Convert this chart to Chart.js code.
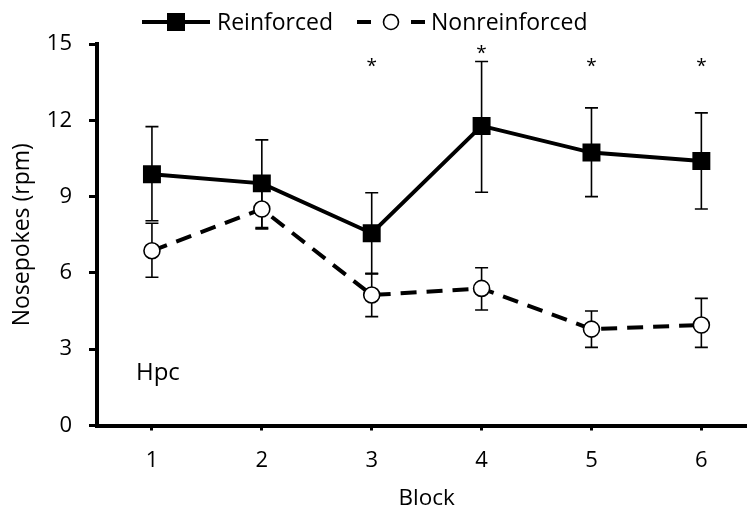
<!DOCTYPE html>
<html><head><meta charset="utf-8">
<style>html,body{margin:0;padding:0;overflow:hidden;background:#fff;width:747px;height:512px}#wrap{position:relative;width:747px;height:512px;overflow:hidden}</style>
<script src="https://cdn.jsdelivr.net/npm/chart.js@4"></script>
</head><body><div id="wrap"><canvas id="c" width="769" height="512"></canvas></div>
<script>
const blocks = ['1', '2', '3', '4', '5', '6'];
const reinforced = [9.88, 9.52, 7.56, 11.78, 10.73, 10.40];
const reinforcedHigh = [11.75, 11.23, 9.15, 14.31, 12.49, 12.29];
const reinforcedLow = [8.05, 7.73, 5.96, 9.17, 9.00, 8.51];
const nonreinforced = [6.87, 8.51, 5.13, 5.39, 3.79, 3.95];
const nonreinforcedHigh = [7.95, 9.24, 5.98, 6.20, 4.50, 5.00];
const nonreinforcedLow = [5.83, 7.78, 4.28, 4.54, 3.07, 3.07];
const significance = ['', '', '*', '*', '*', '*'];
const significanceLevel = [null, null, 14.3, 14.8, 14.3, 14.3];
const yTicks = [0, 3, 6, 9, 12, 15];

const FONT = '"Open Sans", "Noto Sans", sans-serif';

const errorBars = {
  id: 'errorBars',
  beforeDatasetsDraw(chart) {
    const {ctx, scales: {x, y}} = chart;
    const sets = [[reinforcedHigh, reinforcedLow], [nonreinforcedHigh, nonreinforcedLow]];
    ctx.save();
    ctx.strokeStyle = '#000';
    ctx.lineWidth = 1.6;
    sets.forEach(([hi, lo]) => {
      blocks.forEach((b, i) => {
        const px = x.getPixelForValue(i);
        const yh = y.getPixelForValue(hi[i]);
        const yl = y.getPixelForValue(lo[i]);
        ctx.beginPath();
        ctx.moveTo(px, yh); ctx.lineTo(px, yl);
        ctx.moveTo(px - 6.5, yh); ctx.lineTo(px + 6.5, yh);
        ctx.moveTo(px - 6.5, yl); ctx.lineTo(px + 6.5, yl);
        ctx.stroke();
      });
    });
    ctx.restore();
  },
  afterDatasetsDraw(chart) {
    const {ctx, scales: {x, y}} = chart;
    ctx.save();
    ctx.fillStyle = '#000';
    ctx.font = '19px ' + FONT;
    ctx.textAlign = 'center';
    ctx.textBaseline = 'middle';
    significance.forEach((s, i) => {
      if (!s) return;
      ctx.fillText(s, x.getPixelForValue(i), y.getPixelForValue(significanceLevel[i]) + 5);
    });
    ctx.font = '24px ' + FONT;
    ctx.textAlign = 'left';
    ctx.fillText('Hpc', x.getPixelForValue(0) - 16, y.getPixelForValue(2.05));
    ctx.restore();
  }
};

const customLegend = {
  id: 'customLegend',
  afterDraw(chart) {
    const {ctx} = chart;
    const ds = chart.data.datasets;
    const yy = 22;
    ctx.save();
    ctx.strokeStyle = '#000';
    ctx.fillStyle = '#000';
    ctx.lineWidth = 4;
    ctx.beginPath(); ctx.moveTo(142, yy); ctx.lineTo(210, yy); ctx.stroke();
    ctx.fillRect(176 - 9, yy - 9, 18, 18);
    ctx.font = '23px ' + FONT;
    ctx.textBaseline = 'middle';
    ctx.textAlign = 'left';
    ctx.fillText(ds[0].label, 217, yy + 1);
    ctx.beginPath(); ctx.moveTo(357, yy); ctx.lineTo(371, yy); ctx.moveTo(411, yy); ctx.lineTo(425, yy); ctx.stroke();
    ctx.lineWidth = 1.6;
    ctx.fillStyle = '#fff';
    ctx.beginPath(); ctx.arc(391, yy, 7.5, 0, Math.PI * 2); ctx.fill(); ctx.stroke();
    ctx.fillStyle = '#000';
    ctx.fillText(ds[1].label, 431, yy + 1);
    ctx.restore();
  }
};

new Chart(document.getElementById('c'), {
  type: 'line',
  data: {
    labels: blocks,
    datasets: [
      {
        label: 'Reinforced', data: reinforced,
        borderColor: '#000', backgroundColor: '#000', borderWidth: 4,
        pointStyle: 'rect', pointRadius: 12.7, pointBorderWidth: 0,
        pointBackgroundColor: '#000', pointBorderColor: '#000', tension: 0, order: 1
      },
      {
        label: 'Nonreinforced', data: nonreinforced,
        borderColor: '#000', backgroundColor: '#fff', borderWidth: 4, borderDash: [16, 10],
        pointStyle: 'circle', pointRadius: 8, pointBorderWidth: 1.6,
        pointBackgroundColor: '#fff', pointBorderColor: '#000', tension: 0, order: 2
      }
    ]
  },
  options: {
    responsive: false,
    animation: false,
    devicePixelRatio: 1,
    layout: {padding: {top: 44, right: 0, left: 0, bottom: 0}},
    plugins: {legend: {display: false}, tooltip: {enabled: false}},
    scales: {
      x: {
        type: 'category', offset: true,
        grid: {display: true, drawOnChartArea: false, drawTicks: true, tickLength: 5, tickWidth: 3, tickColor: '#000', offset: false},
        border: {display: true, color: '#000', width: 4},
        ticks: {color: '#000', font: {family: FONT, size: 22}, padding: 17},
        title: {display: true, text: 'Block', color: '#000', font: {family: FONT, size: 22.5}, padding: {top: 0, bottom: 0}},
        afterFit(s) { s.height = 86.5; }
      },
      y: {
        min: 0, max: 15,
        afterBuildTicks(s) { s.ticks = yTicks.map(v => ({value: v})); },
        grid: {display: true, drawOnChartArea: false, drawTicks: true, tickLength: 8, tickWidth: 3, tickColor: '#000'},
        border: {display: true, color: '#000', width: 4},
        ticks: {color: '#000', font: {family: FONT, size: 22}, padding: 17},
        title: {display: true, text: 'Nosepokes (rpm)', color: '#000', font: {family: FONT, size: 23}, padding: {top: 9, bottom: 0}},
        afterFit(s) { s.width = 97; }
      }
    }
  },
  plugins: [errorBars, customLegend]
});
</script>
</body></html>
